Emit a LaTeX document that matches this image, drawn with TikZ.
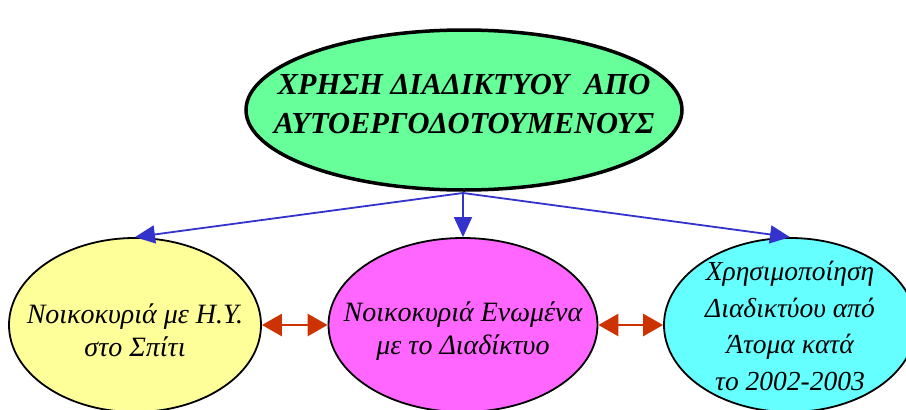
\documentclass[tikz,border=0pt]{standalone}
\usepackage{fontspec}
\setmainfont{Liberation Serif}
\usetikzlibrary{arrows.meta, shapes.geometric}

\begin{document}
\begin{tikzpicture}[x=1pt, y=-1pt,
    blob/.style={ellipse, draw=black, line width=1.8pt, inner sep=0pt},
    caption/.style={align=center, inner sep=0pt, font=\fontsize{28}{33}\selectfont\itshape},
    link/.style={-{Triangle[length=20pt, width=18pt]}, draw={rgb,255:red,51;green,51;blue,204}, line width=1.8pt},
    swap/.style={{Triangle[length=20pt, width=22pt]}-{Triangle[length=20pt, width=22pt]}, draw={rgb,255:red,204;green,51;blue,0}, line width=2.8pt}]
\useasboundingbox (0,0) rectangle (906,410);
% ellipses
\node[blob, line width=3.5pt, fill={rgb,255:red,102;green,255;blue,153}, minimum width=436pt, minimum height=160pt] (title) at (464,110) {};
\node[blob, fill={rgb,255:red,255;green,255;blue,153}, minimum width=252pt, minimum height=174pt] (home) at (135,325) {};
\node[blob, fill={rgb,255:red,255;green,102;blue,255}, minimum width=269pt, minimum height=174pt] (net) at (463,325) {};
\node[blob, fill={rgb,255:red,102;green,255;blue,255}, minimum width=252pt, minimum height=174pt] (use) at (790,325) {};
% texts
\node[caption, yshift=6pt, font=\fontsize{30.5}{39}\selectfont\bfseries\itshape] (titletext) at (title) {ΧΡΗΣΗ ΔΙΑΔΙΚΤΥΟΥ\ \ ΑΠΟ\\ΑΥΤΟΕΡΓΟΔΟΤΟΥΜΕΝΟΥΣ};
\node[caption, yshift=-5pt] (hometext) at (home) {Νοικοκυριά με Η.Υ.\\στο Σπίτι};
\node[caption, yshift=-6pt] (nettext) at (net) {Νοικοκυριά Ενωμένα\\με το Διαδίκτυο};
\node[caption, yshift=-1pt, font=\fontsize{27.5}{36.5}\selectfont\itshape] (usetext) at (use) {Χρησιμοποίηση\\Διαδικτύου από\\Άτομα κατά\\το 2002-2003};
% connectors
\coordinate (fork) at (463,193);
\draw[link] (fork) -- (home.north);
\draw[link] (fork) -- (net.north);
\draw[link] (fork) -- (use.north);
\draw[swap] (home.east) -- (net.west);
\draw[swap] (net.east) -- (use.west);
\end{tikzpicture}
\end{document}
